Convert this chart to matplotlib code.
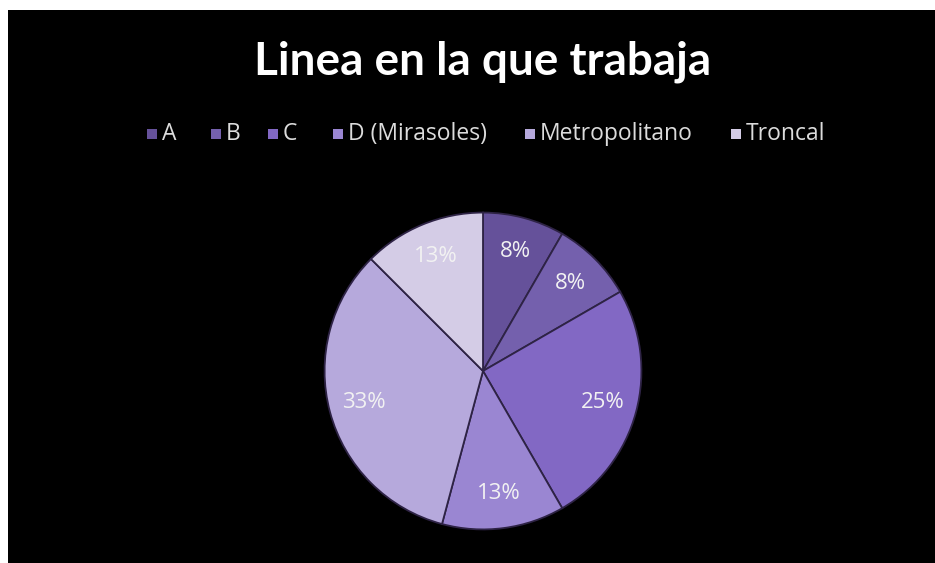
import matplotlib
matplotlib.use('Agg')
import matplotlib.pyplot as plt
from matplotlib.patches import Rectangle

# Respuestas por línea
lineas = ['A', 'B', 'C', 'D (Mirasoles)', 'Metropolitano', 'Troncal']
respuestas = [2, 2, 6, 3, 8, 3]
colores = ['#65519a', '#7460ad', '#8268c4', '#9a86d2', '#b6a9dc', '#d4cce6']

W, H = 935, 563
fig = plt.figure(figsize=(W / 100, H / 100), dpi=100, facecolor='white')

# fondo negro del gráfico (por debajo de los ejes)
fig.patches.append(Rectangle((8 / W, 0), 1, (H - 10) / H, transform=fig.transFigure,
                             facecolor='black', edgecolor='none', zorder=-5))

fig.text(483 / W, 1 - 62 / H, 'Linea en la que trabaja', ha='center', va='center',
         color='white', fontsize=33, fontweight='bold', family='Lato')

# leyenda en una fila
leg_x = [147, 211, 268, 333, 525, 731]
for x, nombre, c in zip(leg_x, lineas, colores):
    fig.patches.append(Rectangle((x / W, 1 - 139 / H), 10 / W, 10 / H,
                                 transform=fig.transFigure, facecolor=c,
                                 edgecolor='none', zorder=2))
    fig.text((x + 15) / W, 1 - 134 / H, nombre, ha='left', va='center',
             color='#dcdcdc', fontsize=16.5, family='Open Sans')


def pct_fmt(p):
    # redondeo como en Excel (12.5 -> 13)
    return f'{int(p + 0.5 + 1e-9)}%'


ax = fig.add_axes([(483 - 160) / W, (H - 531) / H, 320 / W, 320 / H])
wedges, texts, autotexts = ax.pie(
    respuestas, colors=colores, startangle=90, counterclock=False,
    autopct=pct_fmt, pctdistance=0.78, radius=1,
    wedgeprops=dict(edgecolor='#2e2345', linewidth=1.3),
    textprops=dict(color='#f2f2f2', fontsize=16, family='Open Sans'))
ax.set_xlim(-1.01, 1.01)
ax.set_ylim(-1.01, 1.01)
ax.set_aspect('equal')
ax.axis('off')

plt.savefig('out.png', dpi=100, facecolor='white')
